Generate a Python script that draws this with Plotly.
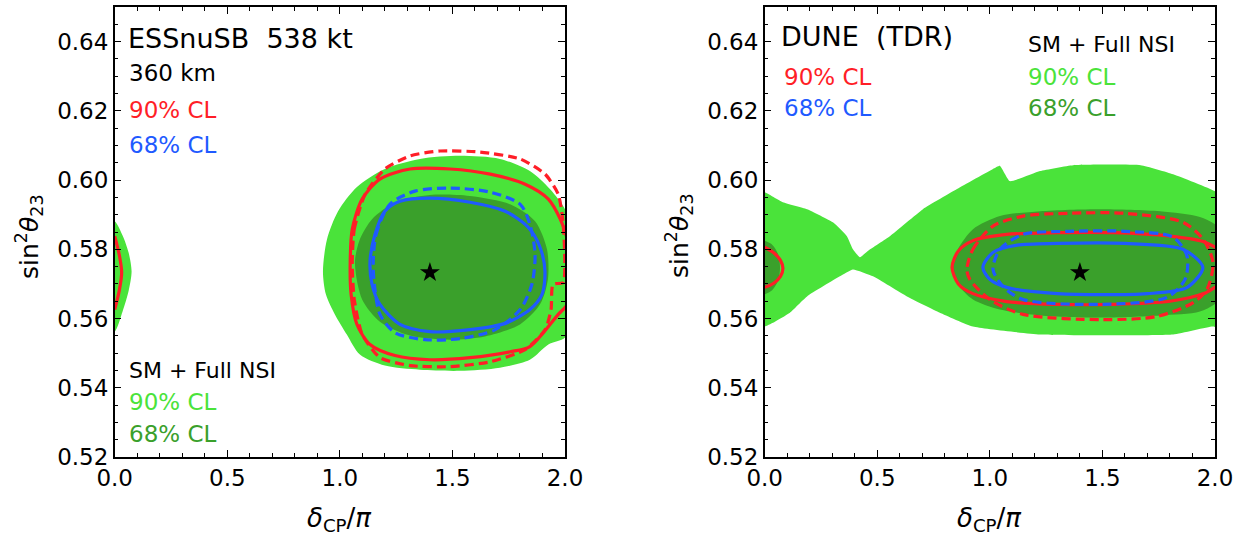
import plotly.graph_objects as go

# ---------------- data ----------------
STAR = (1.40, 0.5733)

# Left panel: ESSnuSB 538 kt
ess_nsi90_x = [0.925, 0.943, 0.992, 1.076, 1.200, 1.356, 1.533, 1.711, 1.844, 1.933, 2.000, 2.040, 2.077, 2.040, 2.000,
               1.926, 1.844, 1.711, 1.533, 1.356, 1.200, 1.089, 1.031, 0.978, 0.938, 0.925]
ess_nsi90_y = [0.5736, 0.5829, 0.5910, 0.5980, 0.6032, 0.6061, 0.6070, 0.6061, 0.6026, 0.5974, 0.5916, 0.5850, 0.5736, 0.5620, 0.5545,
               0.5525, 0.5481, 0.5458, 0.5449, 0.5452, 0.5464, 0.5496, 0.5554, 0.5612, 0.5670, 0.5736]
ess_nsi90_wrap_x = [-0.02, 0.000, 0.035, 0.062, 0.075, 0.062, 0.035, 0.000, -0.02]
ess_nsi90_wrap_y = [0.5881, 0.5881, 0.5840, 0.5790, 0.5736, 0.5680, 0.5620, 0.5562, 0.5562]

ess_nsi68_x = [1.067, 1.089, 1.143, 1.245, 1.400, 1.578, 1.756, 1.867, 1.920, 1.924, 1.889, 1.800, 1.645, 1.490, 1.312, 1.178, 1.099, 1.067]
ess_nsi68_y = [0.5762, 0.5829, 0.5887, 0.5936, 0.5957, 0.5954, 0.5930, 0.5881, 0.5800, 0.5713, 0.5641, 0.5583, 0.5548, 0.5539, 0.5551, 0.5591, 0.5655, 0.5762]

ess_sm90_x = [1.046, 1.055, 1.099, 1.178, 1.312, 1.490, 1.668, 1.823, 1.926, 1.979, 2.010, 2.031, 2.010, 1.970, 1.844,
              1.756, 1.578, 1.400, 1.245, 1.134, 1.076, 1.050, 1.046]
ess_sm90_y = [0.5762, 0.5858, 0.5945, 0.6003, 0.6032, 0.6032, 0.6017, 0.5988, 0.5945, 0.5887, 0.5829, 0.5736, 0.5641, 0.5612, 0.5519,
              0.5504, 0.5487, 0.5481, 0.5493, 0.5525, 0.5583, 0.5670, 0.5762]
ess_sm90_wrap_x = [0.000, 0.020, 0.031, 0.020, 0.000]
ess_sm90_wrap_y = [0.5838, 0.5785, 0.5733, 0.5680, 0.5626]

ess_nsi_line90_x = [1.055, 1.064, 1.112, 1.200, 1.312, 1.445, 1.623, 1.801, 1.912, 1.970, 1.992, 1.992, 1.947, 1.938, 1.912,
                    1.823, 1.668, 1.490, 1.312, 1.178, 1.099, 1.064, 1.055]
ess_nsi_line90_y = [0.5757, 0.5858, 0.5959, 0.6032, 0.6070, 0.6084, 0.6081, 0.6061, 0.6017, 0.5959, 0.5872, 0.5704, 0.5699, 0.5626, 0.5568,
                    0.5510, 0.5475, 0.5461, 0.5464, 0.5487, 0.5554, 0.5655, 0.5757]

ess_sm68_x = [1.134, 1.156, 1.200, 1.267, 1.400, 1.578, 1.734, 1.836, 1.889, 1.911, 1.898, 1.844, 1.734, 1.578, 1.400, 1.267, 1.178, 1.143, 1.134]
ess_sm68_y = [0.5765, 0.5843, 0.5910, 0.5939, 0.5948, 0.5936, 0.5910, 0.5864, 0.5806, 0.5736, 0.5670, 0.5626, 0.5586, 0.5568, 0.5562, 0.5583, 0.5641, 0.5699, 0.5765]

ess_nsi_line68_x = [1.148, 1.161, 1.222, 1.334, 1.490, 1.668, 1.801, 1.844, 1.867, 1.853, 1.801, 1.690, 1.533, 1.378, 1.245, 1.178, 1.156, 1.148]
ess_nsi_line68_y = [0.5757, 0.5843, 0.5930, 0.5968, 0.5977, 0.5965, 0.5930, 0.5872, 0.5786, 0.5699, 0.5626, 0.5568, 0.5542, 0.5539, 0.5559, 0.5612, 0.5684, 0.5757]

# Right panel: DUNE (TDR)
dune_nsi90_x = [-0.03, 0.000, 0.081, 0.188, 0.303, 0.365, 0.392, 0.423, 0.459, 0.556, 0.703, 0.854, 1.014, 1.045, 1.089, 1.223,
                1.370, 1.670, 1.814, 2.000, 2.050, 2.050, 1.990, 1.814, 1.223, 0.925, 0.778, 0.632, 0.481, 0.392, 0.334,
                0.188, 0.112, 0.037, 0.000, -0.03]
dune_nsi90_y = [0.5965, 0.5965, 0.5936, 0.5916, 0.5878, 0.5838, 0.5800, 0.5777, 0.5796, 0.5838, 0.5916, 0.5974, 0.6032, 0.6041, 0.5997, 0.6026,
                0.6043, 0.6043, 0.6017, 0.5968, 0.5940, 0.5570, 0.5577, 0.5554, 0.5554, 0.5577, 0.5617, 0.5664, 0.5722, 0.5742, 0.5722,
                0.5664, 0.5617, 0.5588, 0.5577, 0.5577]

dune_nsi68_x = [0.832, 0.858, 0.925, 1.045, 1.223, 1.489, 1.756, 1.933, 2.020, 2.040, 2.020, 1.933, 1.756, 1.489, 1.223, 1.045, 0.925, 0.858, 0.832]
dune_nsi68_y = [0.5751, 0.5800, 0.5858, 0.5896, 0.5910, 0.5916, 0.5910, 0.5893, 0.5860, 0.5750, 0.5655, 0.5620, 0.5609, 0.5603, 0.5609, 0.5626, 0.5655, 0.5699, 0.5751]
dune_nsi68_wrap_x = [-0.02, 0.030, 0.060, 0.068, 0.060, 0.030, -0.02]
dune_nsi68_wrap_y = [0.5829, 0.5815, 0.5785, 0.5748, 0.5710, 0.5680, 0.5664]

dune_sm90_x = [0.832, 0.860, 0.925, 1.075, 1.300, 1.550, 1.800, 1.950, 2.000, 2.050, 2.081, 2.050, 2.000, 1.950, 1.800, 1.550, 1.300, 1.075, 0.925, 0.860, 0.832]
dune_sm90_y = [0.5748, 0.5795, 0.5825, 0.5843, 0.5848, 0.5848, 0.5838, 0.5822, 0.5806, 0.5780, 0.5745, 0.5710, 0.5690, 0.5672, 0.5650, 0.5641, 0.5641, 0.5649, 0.5672, 0.5700, 0.5748]
dune_sm90_wrap_x = [0.000, 0.040, 0.070, 0.081, 0.070, 0.040, 0.000]
dune_sm90_wrap_y = [0.5806, 0.5790, 0.5768, 0.5745, 0.5722, 0.5702, 0.5690]

dune_nsi_line90_x = [0.898, 0.925, 1.014, 1.147, 1.350, 1.600, 1.858, 1.947, 1.991, 1.964, 1.903, 1.742, 1.500, 1.147, 1.000, 0.911, 0.898]
dune_nsi_line90_y = [0.5742, 0.5800, 0.5867, 0.5896, 0.5904, 0.5904, 0.5878, 0.5829, 0.5762, 0.5684, 0.5646, 0.5606, 0.5597, 0.5612, 0.5655, 0.5713, 0.5742]

dune_sm68_x = [0.969, 1.014, 1.121, 1.300, 1.600, 1.858, 1.946, 1.876, 1.700, 1.300, 1.075, 1.000, 0.969]
dune_sm68_y = [0.5748, 0.5791, 0.5812, 0.5817, 0.5817, 0.5800, 0.5748, 0.5690, 0.5672, 0.5672, 0.5690, 0.5713, 0.5748]

dune_nsi_line68_x = [1.014, 1.045, 1.147, 1.350, 1.600, 1.814, 1.876, 1.867, 1.786, 1.500, 1.147, 1.058, 1.014]
dune_nsi_line68_y = [0.5742, 0.5800, 0.5843, 0.5852, 0.5852, 0.5835, 0.5780, 0.5713, 0.5661, 0.5641, 0.5655, 0.5693, 0.5742]

X_TICKS = [0.0, 0.5, 1.0, 1.5, 2.0]
Y_TICKS = [0.52, 0.54, 0.56, 0.58, 0.60, 0.62, 0.64]

# ---------------- style ----------------
LGREEN = "#4AE33A"
DGREEN = "#3AA02B"
RED = "#FF1E27"
BLUE = "#1F5AFF"
FONT = "DejaVu Sans"

fig = go.Figure()


def fill(x, y, color, xa, ya, smooth=0.8):
    fig.add_trace(go.Scatter(x=x, y=y, mode="lines", fill="toself", fillcolor=color,
                             line=dict(width=0, color=color, shape="spline", smoothing=smooth),
                             xaxis=xa, yaxis=ya, hoverinfo="skip", showlegend=False))


def line(x, y, color, dash, xa, ya, smooth=0.8):
    fig.add_trace(go.Scatter(x=x, y=y, mode="lines",
                             line=dict(width=3.2, color=color, dash=dash, shape="spline", smoothing=smooth),
                             xaxis=xa, yaxis=ya, hoverinfo="skip", showlegend=False))


# left panel
fill(ess_nsi90_x, ess_nsi90_y, LGREEN, "x", "y")
fill(ess_nsi90_wrap_x, ess_nsi90_wrap_y, LGREEN, "x", "y")
fill(ess_nsi68_x, ess_nsi68_y, DGREEN, "x", "y")
line(ess_sm90_x, ess_sm90_y, RED, "solid", "x", "y")
line(ess_sm90_wrap_x, ess_sm90_wrap_y, RED, "solid", "x", "y")
line(ess_nsi_line90_x, ess_nsi_line90_y, RED, "9px,5px", "x", "y", 0.6)
line(ess_sm68_x, ess_sm68_y, BLUE, "solid", "x", "y")
line(ess_nsi_line68_x, ess_nsi_line68_y, BLUE, "9px,5px", "x", "y")

# right panel
fill(dune_nsi90_x, dune_nsi90_y, LGREEN, "x2", "y2", 0.4)
fill(dune_nsi68_x, dune_nsi68_y, DGREEN, "x2", "y2")
fill(dune_nsi68_wrap_x, dune_nsi68_wrap_y, DGREEN, "x2", "y2")
line(dune_sm90_x, dune_sm90_y, RED, "solid", "x2", "y2")
line(dune_sm90_wrap_x, dune_sm90_wrap_y, RED, "solid", "x2", "y2")
line(dune_nsi_line90_x, dune_nsi_line90_y, RED, "9px,5px", "x2", "y2")
line(dune_sm68_x, dune_sm68_y, BLUE, "solid", "x2", "y2")
line(dune_nsi_line68_x, dune_nsi_line68_y, BLUE, "9px,5px", "x2", "y2")

for xa, ya in (("x", "y"), ("x2", "y2")):
    fig.add_trace(go.Scatter(x=[STAR[0]], y=[STAR[1]], mode="markers",
                             marker=dict(symbol="star", size=15, color="black", line=dict(width=0)),
                             xaxis=xa, yaxis=ya, hoverinfo="skip", showlegend=False))

W, H = 1250, 537
ydom = [1 - 457 / H, 1 - 7 / H]

axis_common = dict(showgrid=False, zeroline=False, showline=True, linecolor="black", linewidth=1.5,
                   mirror="allticks", ticks="inside", ticklen=7, tickwidth=1, tickcolor="black",
                   automargin=False,
                   tickfont=dict(family=FONT, size=23, color="black"))
xcommon = dict(axis_common, range=[0, 2], tickvals=X_TICKS, tickformat=".1f",
               minor=dict(ticks="inside", dtick=0.1, tick0=0, ticklen=4, tickcolor="black"))
ycommon = dict(axis_common, range=[0.52, 0.65], tickvals=Y_TICKS, tickformat=".2f",
               minor=dict(ticks="inside", dtick=0.005, tick0=0.52, ticklen=4, tickcolor="black"))

fig.update_layout(
    width=W, height=H, margin=dict(l=0, r=0, t=0, b=0, autoexpand=False),
    paper_bgcolor="white", plot_bgcolor="white", hovermode=False,
    xaxis=dict(xcommon, domain=[114.7 / W, 565 / W], anchor="y"),
    yaxis=dict(ycommon, domain=ydom, anchor="x"),
    xaxis2=dict(xcommon, domain=[764.7 / W, 1215 / W], anchor="y2"),
    yaxis2=dict(ycommon, domain=ydom, anchor="x2"),
)


def txt(px, py, s, size, color="black", xanchor="left", angle=0):
    fig.add_annotation(x=px / W, y=1 - py / H, xref="paper", yref="paper", text=s, showarrow=False,
                       xanchor=xanchor, yanchor="middle", textangle=angle,
                       font=dict(family=FONT, size=size, color=color))


# left panel texts
txt(126, 38, "ESSnuSB  538 kt", 27)
txt(127, 73, "360 km", 23)
txt(127, 110, "90% CL", 23, RED)
txt(127, 145, "68% CL", 23, BLUE)
txt(127, 370, "SM + Full NSI", 22)
txt(127, 402, "90% CL", 23, LGREEN)
txt(127, 434, "68% CL", 23, DGREEN)

# right panel texts
txt(779, 36, "DUNE  (TDR)", 27)
txt(782, 77, "90% CL", 23, RED)
txt(782, 108, "68% CL", 23, BLUE)
txt(1026, 45, "SM + Full NSI", 22)
txt(1026, 77, "90% CL", 23, LGREEN)
txt(1026, 108, "68% CL", 23, DGREEN)

# axis titles
ytitle = "sin<sup>2</sup><i>θ</i><sub>23</sub>"
xtitle = "<i>δ</i><sub>CP</sub>/<i>π</i>"
txt(29, 236, ytitle, 25, xanchor="center", angle=-90)
txt(679, 236, ytitle, 25, xanchor="center", angle=-90)
txt(339, 519, xtitle, 26, xanchor="center")
txt(989, 519, xtitle, 26, xanchor="center")

fig.write_html("out.html", config={"displayModeBar": False},
               post_script="document.body.style.margin='0px';document.body.style.overflow='hidden';")
